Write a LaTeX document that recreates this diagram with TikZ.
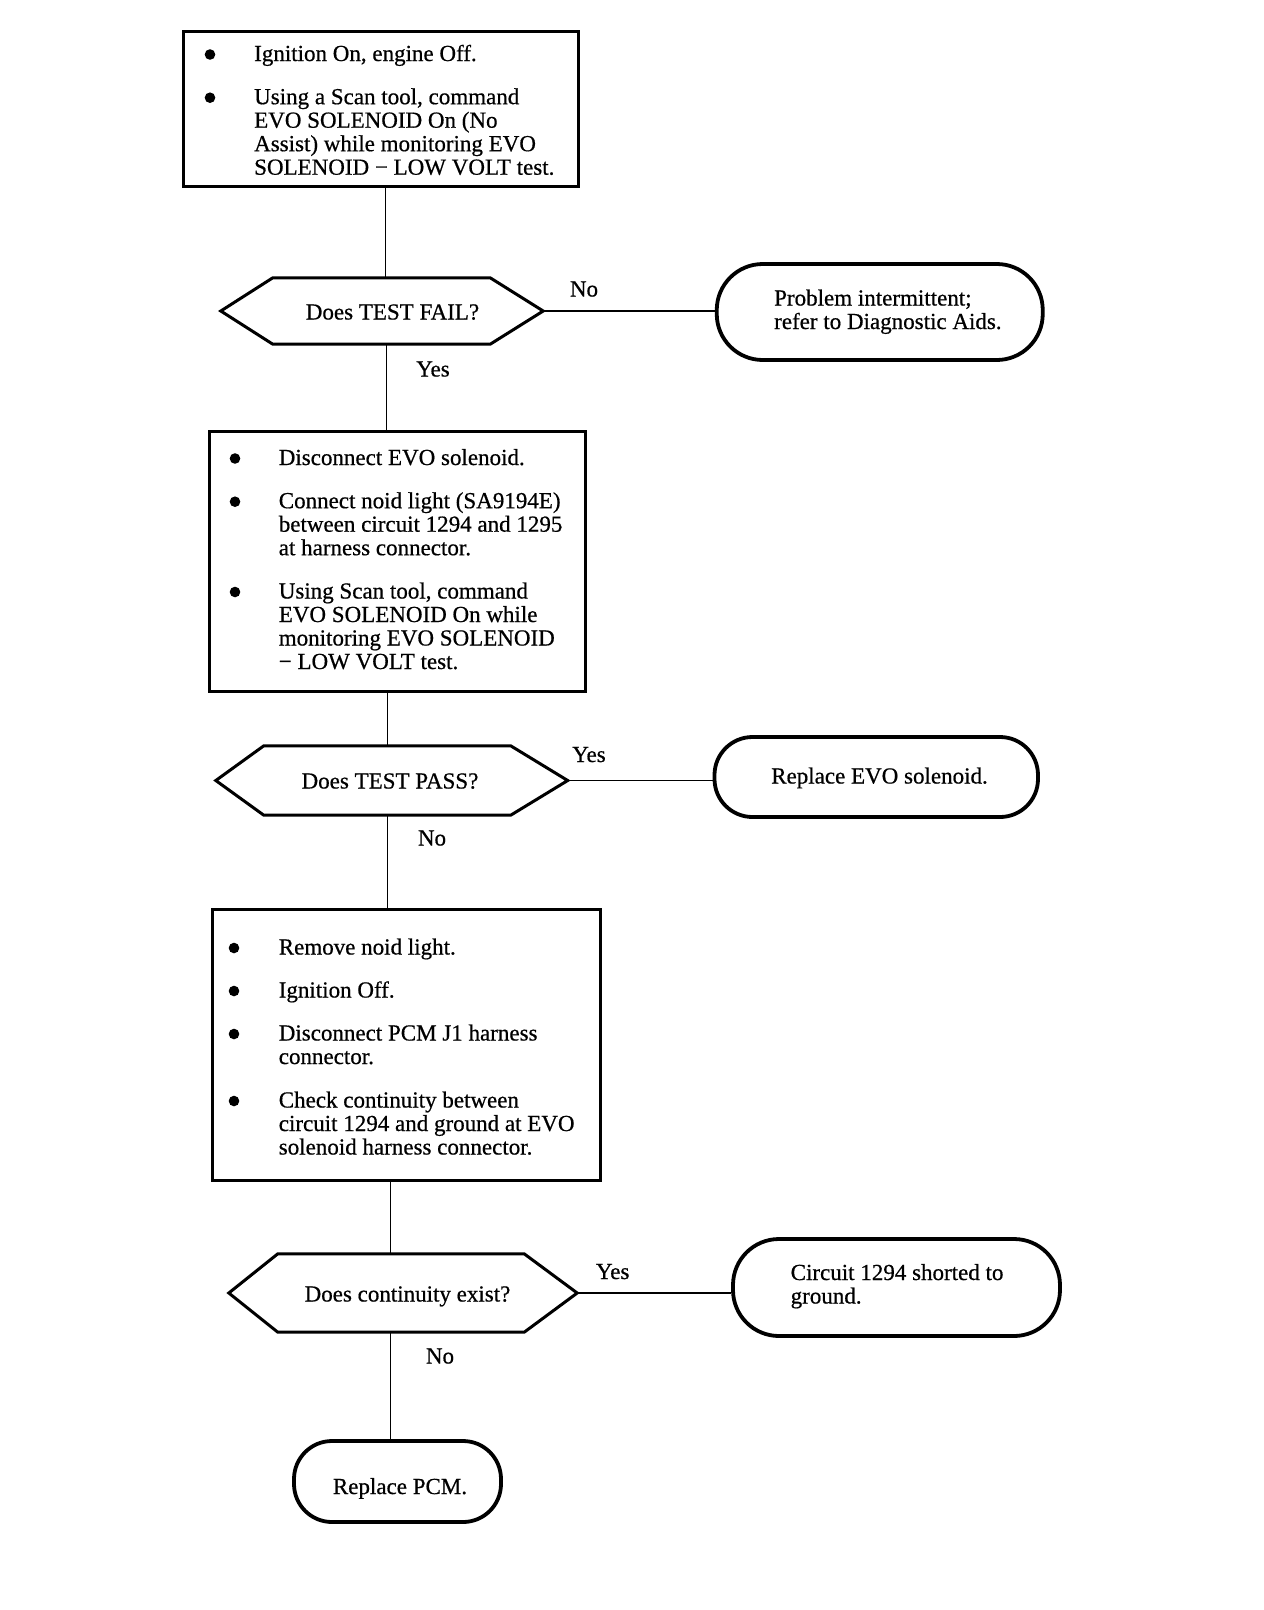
\documentclass[tikz,border=0pt]{standalone}
\usepackage{fontspec}
\setmainfont{Liberation Serif}[FakeBold=0.6]
\newcommand{\mylines}[1]{\parbox[t]{420pt}{\raggedright #1}}
\begin{document}
\begin{tikzpicture}[x=1pt,y=-1pt,
  stepbox/.style={draw, line width=3pt, inner sep=0pt},
  shape0/.style={inner sep=0pt},
  hexline/.style={line width=3pt, line join=miter},
  ovalbox/.style={draw, line width=3.8pt, inner sep=0pt},
  conn/.style={line width=1.7pt},
  txt/.style={anchor=base west, inner sep=0pt, font=\fontsize{23}{23.5}\selectfont},
  ctxt/.style={anchor=base, inner sep=0pt, font=\fontsize{23}{23.5}\selectfont},
  lbl/.style={anchor=base, inner sep=0pt, font=\fontsize{23}{23.5}\selectfont},
  dot/.style={fill=black}
]
\useasboundingbox[fill=white] (0,0) rectangle (1264,1610);

% ---------- Box 1 ----------
\node[stepbox, minimum width=395pt, minimum height=155pt] (box1) at (380.5,108.5) {};
\fill[dot] (210,54.5) circle (5.3pt);
\fill[dot] (210,97.7) circle (5.3pt);
\node[txt] (b1a) at (254,61) {Ignition On, engine Off.};
\node[txt] (b1b) at (254,104.2) {\mylines{Using a Scan tool, command\\EVO SOLENOID On (No\\Assist) while monitoring EVO\\SOLENOID − LOW VOLT test.}};

% ---------- Decision 1 ----------
\node[shape0, minimum width=322pt, minimum height=66pt] (d1) at (382,311) {};
\draw[hexline] (d1.west) -- ([xshift=52pt]d1.north west) -- ([xshift=-53pt]d1.north east) -- (d1.east) -- ([xshift=-53pt]d1.south east) -- ([xshift=52pt]d1.south west) -- cycle;
\node[ctxt] (d1t) at (392.5,319.5) {Does TEST FAIL?};

% ---------- Oval 1 ----------
\node[ovalbox, rounded corners=46pt, minimum width=326pt, minimum height=96pt] (o1) at (879.75,312) {};
\node[txt] (o1t) at (774,305.5) {\mylines{Problem intermittent;\\refer to Diagnostic Aids.}};

% ---------- Box 2 ----------
\node[stepbox, minimum width=376pt, minimum height=260pt] (box2) at (397,561) {};
\fill[dot] (235,458.5) circle (5.3pt);
\fill[dot] (235,501.7) circle (5.3pt);
\fill[dot] (235,592) circle (5.3pt);
\node[txt] (b2a) at (278.6,465) {Disconnect EVO solenoid.};
\node[txt] (b2b) at (278.6,508.2) {\mylines{Connect noid light (SA9194E)\\between circuit 1294 and 1295\\at harness connector.}};
\node[txt] (b2c) at (278.6,598.5) {\mylines{Using Scan tool, command\\EVO SOLENOID On while\\monitoring EVO SOLENOID\\− LOW VOLT test.}};

% ---------- Decision 2 ----------
\node[shape0, minimum width=351.5pt, minimum height=69pt] (d2) at (391.75,780.5) {};
\draw[hexline] (d2.west) -- ([xshift=48pt]d2.north west) -- ([xshift=-57pt]d2.north east) -- (d2.east) -- ([xshift=-57pt]d2.south east) -- ([xshift=48pt]d2.south west) -- cycle;
\node[ctxt] (d2t) at (390,788.5) {Does TEST PASS?};

% ---------- Oval 2 ----------
\node[ovalbox, rounded corners=38pt, minimum width=323.5pt, minimum height=80pt] (o2) at (876.25,777) {};
\node[ctxt] (o2t) at (879.5,783.5) {Replace EVO solenoid.};

% ---------- Box 3 ----------
\node[stepbox, minimum width=388pt, minimum height=271pt] (box3) at (406,1044.5) {};
\fill[dot] (234,948) circle (5.3pt);
\fill[dot] (234,991) circle (5.3pt);
\fill[dot] (234,1034) circle (5.3pt);
\fill[dot] (234,1101) circle (5.3pt);
\node[txt] (b3a) at (278.6,954.5) {Remove noid light.};
\node[txt] (b3b) at (278.6,997.5) {Ignition Off.};
\node[txt] (b3c) at (278.6,1040.5) {\mylines{Disconnect PCM J1 harness\\connector.}};
\node[txt] (b3d) at (278.6,1107.5) {\mylines{Check continuity between\\circuit 1294 and ground at EVO\\solenoid harness connector.}};

% ---------- Decision 3 ----------
\node[shape0, minimum width=348pt, minimum height=78pt] (d3) at (403,1293) {};
\draw[hexline] (d3.west) -- ([xshift=49pt]d3.north west) -- ([xshift=-53pt]d3.north east) -- (d3.east) -- ([xshift=-53pt]d3.south east) -- ([xshift=49pt]d3.south west) -- cycle;
\node[ctxt] (d3t) at (407.5,1301.5) {Does continuity exist?};

% ---------- Oval 3 ----------
\node[ovalbox, rounded corners=46pt, minimum width=327pt, minimum height=97pt] (o3) at (896.5,1287.5) {};
\node[txt] (o3t) at (790.5,1280) {\mylines{Circuit 1294 shorted to\\ground.}};

% ---------- Oval 4 ----------
\node[ovalbox, rounded corners=38pt, minimum width=207pt, minimum height=81pt] (o4) at (397.5,1481.5) {};
\node[ctxt] (o4t) at (400,1494) {Replace PCM.};

% ---------- Connectors ----------
\coordinate (k1) at (385.5,0);
\coordinate (k2) at (386.5,0);
\coordinate (k3) at (387.6,0);
\coordinate (k5) at (390.6,0);
\draw[conn] (box1.south -| k1) -- (d1.north -| k1);
\draw[conn] (d1.south -| k2) -- (box2.north -| k2);
\draw[conn] (box2.south -| k3) -- (d2.north -| k3);
\draw[conn] (d2.south -| k3) -- (box3.north -| k3);
\draw[conn] (box3.south -| k5) -- (d3.north -| k5);
\draw[conn] (d3.south -| k5) -- (o4.north -| k5);
\draw[conn] (d1.east) -- (d1.east -| o1.west);
\draw[conn] (d2.east) -- (d2.east -| o2.west);
\draw[conn] (d3.east) -- (d3.east -| o3.west);

% ---------- Branch labels ----------
\node[lbl] (l1) at (584,296.5) {No};
\node[lbl] (l2) at (433,376.5) {Yes};
\node[lbl] (l3) at (589,762) {Yes};
\node[lbl] (l4) at (432,845.5) {No};
\node[lbl] (l5) at (612.7,1279) {Yes};
\node[lbl] (l6) at (440,1363.5) {No};
\end{tikzpicture}
\end{document}
